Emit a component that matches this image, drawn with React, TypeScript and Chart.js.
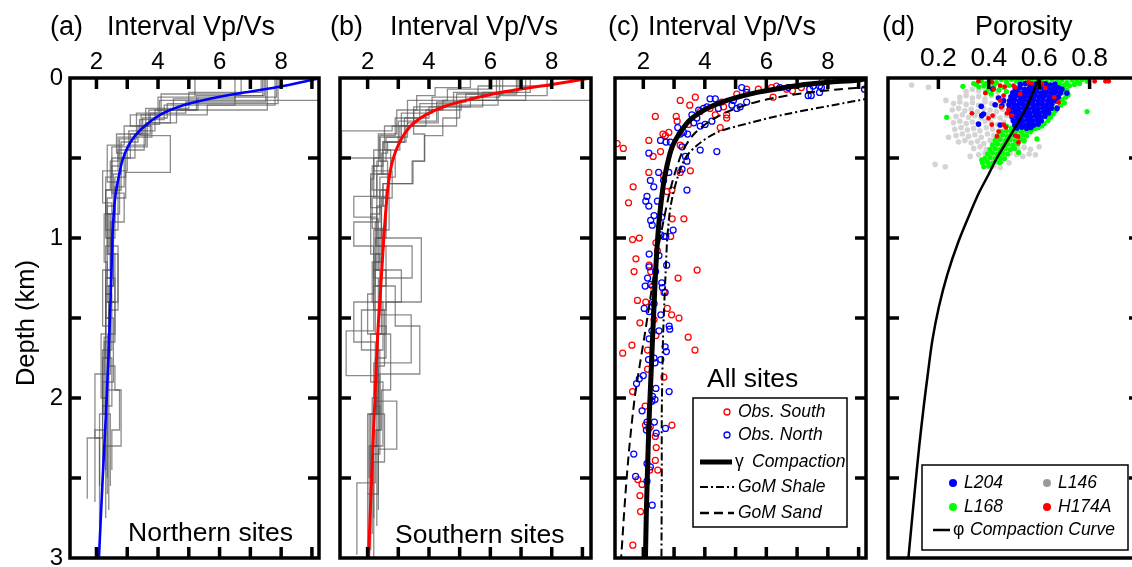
import React, { useEffect, useRef } from "react";
import { Chart, registerables } from "chart.js";
Chart.register(...registerables);

type Pt = [number, number];
const FONT = "'Liberation Sans', Arial, Helvetica, sans-serif";

// ---------- tick values ----------
const vpvsTickValues = [2, 3, 4, 5, 6, 7, 8, 9];
const vpvsTickLabels = [2, 4, 6, 8];
const porosityTickValues = [0.2, 0.4, 0.6, 0.8, 1.0];
const porosityTickLabels = [0.2, 0.4, 0.6, 0.8];
const depthTickValues = [0.5, 1, 1.5, 2, 2.5];
const depthTickLabels = [0, 1, 2, 3];

// ---------- (a) northern sites: interval Vp/Vs step profiles [Vp/Vs, top depth km] ----------
const north1: Pt[] = [[9.25,0],[4.05,0.14],[3.55,0.29],[2.95,0.45],[2.6,0.62],[2.5,0.9],[2.3,1.2],[2.45,1.5],[2.2,1.85],[2.35,2.1],[2.35,2.6]];
const north2: Pt[] = [[7.85,0],[5.3,0.12],[4.4,0.2],[3.6,0.28],[3.0,0.42],[2.75,0.58],[2.4,0.85],[2.6,1.1],[2.3,1.4],[2.5,1.75],[2.2,2.05],[2.2,2.45]];
const north3: Pt[] = [[7.5,0],[4.9,0.15],[3.75,0.22],[3.25,0.35],[2.8,0.5],[2.3,0.7],[2.55,0.95],[2.4,1.3],[2.25,1.62],[1.95,1.85],[2.1,2.25],[2.1,2.55]];
const north4: Pt[] = [[7.4,0],[6.5,0.11],[4.2,0.17],[3.4,0.26],[4.4,0.36],[2.95,0.59],[2.6,0.75],[2.35,1.0],[2.6,1.25],[2.35,1.6],[2.75,1.95],[2.5,2.2],[2.5,2.45]];
const north5: Pt[] = [[7.45,0],[5.25,0.11],[3.9,0.2],[3.05,0.33],[2.7,0.45],[2.2,0.58],[2.5,0.78],[2.3,1.05],[2.5,1.35],[2.3,1.7],[1.95,2.2],[1.95,2.65]];
const north6: Pt[] = [[6.5,0],[4.5,0.13],[3.7,0.2],[3.35,0.3],[2.8,0.4],[2.55,0.6],[2.35,0.8],[2.7,1.1],[2.4,1.45],[2.2,1.9],[1.7,2.25],[1.7,2.63]];
const north7: Pt[] = [[7.9,0],[4.3,0.16],[3.5,0.25],[3.1,0.35],[2.5,0.5],[2.9,0.72],[2.45,0.9],[2.2,1.2],[2.4,1.55],[2.6,1.8],[2.8,1.95],[2.3,2.3],[2.3,2.75]];
const north8: Pt[] = [[5.2,0],[4.0,0.12],[3.3,0.22],[2.75,0.38],[2.5,0.55],[2.35,0.75],[2.55,1.0],[2.3,1.3],[2.15,1.6],[2.35,2.0],[2.35,2.5]];
const north9: Pt[] = [[7.35,0],[5.0,0.09],[3.6,0.19],[2.9,0.3],[2.35,0.42],[2.7,0.65],[2.5,0.95],[2.3,1.25],[2.55,1.5],[2.4,1.9],[2.4,2.7]];
const north10: Pt[] = [[6.7,0],[4.1,0.1],[3.1,0.23],[3.8,0.3],[2.7,0.37],[2.45,0.52],[2.3,0.7],[2.45,1.0],[2.3,1.35],[2.2,1.7],[2.45,2.1],[2.45,2.55]];
const north11: Pt[] = [[7.55,0],[4.6,0.2],[3.65,0.28],[2.5,0.43],[2.3,0.62],[2.45,0.85],[2.7,1.05],[2.4,1.4],[2.2,1.75],[2.3,2.0],[2.3,2.45]];
const north12: Pt[] = [[7.8,0],[5.6,0.17],[3.45,0.23],[2.65,0.35],[2.9,0.47],[2.6,0.68],[2.25,0.85],[2.35,1.15],[2.6,1.4],[2.25,1.65],[2.1,2.1],[2.1,2.8]];
const northProfiles = [north1, north2, north3, north4, north5, north6, north7, north8, north9, north10, north11, north12];
const northCompaction: Pt[] = [[9.3,0],[7.85,0.058],[6.5,0.1],[5.5,0.138],[4.7,0.178],[4.05,0.232],[3.45,0.32],[3.09,0.405],[2.85,0.51],[2.7,0.64],[2.6,0.76],[2.53,0.95],[2.49,1.18],[2.44,1.49],[2.33,2.01],[2.2,2.51],[2.08,3.0]];

// ---------- (b) southern sites ----------
const south1: Pt[] = [[9.3,0],[5.0,0.14],[4.45,0.25],[3.85,0.36],[3.45,0.52],[2.5,0.66],[2.3,0.8],[3.75,1.0],[2.6,1.4],[2.3,1.6],[2.5,1.9],[2.1,2.3],[2.1,2.95]];
const south2: Pt[] = [[7.85,0],[6.25,0.11],[4.3,0.17],[3.3,0.28],[2.6,0.37],[2.3,0.52],[2.15,0.74],[2.5,0.94],[2.2,1.15],[3.1,1.2],[2.2,1.4],[1.3,1.58],[2.4,1.86],[2.0,2.1],[2.0,2.6]];
const south3: Pt[] = [[7.3,0],[5.75,0.09],[3.5,0.18],[2.8,0.3],[1.15,0.33],[2.9,0.5],[2.4,0.62],[2.1,0.85],[2.4,1.1],[2.9,1.3],[3.7,1.55],[2.3,1.85],[2.55,2.1],[2.2,2.4],[2.2,3.0]];
const south4: Pt[] = [[6.3,0],[5.35,0.12],[4.0,0.18],[3.2,0.25],[2.5,0.4],[2.15,0.55],[2.6,0.7],[1.55,0.74],[2.3,0.87],[2.6,1.05],[2.2,1.3],[1.55,1.4],[2.25,1.65],[2.95,2.02],[2.35,2.32],[2.35,2.7]];
const south5: Pt[] = [[6.9,0],[4.8,0.09],[3.7,0.16],[2.9,0.25],[2.4,0.36],[2.65,0.52],[2.4,0.7],[2.25,0.9],[3.45,1.05],[2.4,1.25],[3.42,1.48],[2.2,1.78],[2.3,2.0],[2.15,2.3],[2.15,2.85]];
const south6: Pt[] = [[7.15,0],[5.05,0.14],[3.9,0.2],[3.05,0.3],[2.2,0.45],[2.1,0.63],[2.45,0.81],[2.3,1.0],[2.6,1.2],[2.25,1.45],[2.75,1.6],[2.45,1.95],[2.25,2.2],[1.65,2.53],[1.65,2.98]];
const south7: Pt[] = [[6.2,0],[4.45,0.14],[3.5,0.2],[3.86,0.35],[3.48,0.52],[2.5,0.66],[2.6,0.8],[2.25,1.0],[2.45,1.3],[2.1,1.6],[2.35,1.9],[2.05,2.3],[2.05,2.9]];
const south8: Pt[] = [[6.05,0],[4.6,0.07],[3.3,0.14],[2.55,0.3],[2.75,0.45],[2.3,0.6],[1.55,0.9],[2.2,1.05],[2.0,1.35],[2.35,1.6],[2.15,2.0],[2.35,2.3],[2.0,2.6],[2.0,3.0]];
const south9: Pt[] = [[5.35,0],[4.2,0.06],[3.6,0.11],[2.95,0.2],[2.35,0.35],[2.2,0.55],[2.6,0.75],[2.4,0.95],[2.15,1.15],[2.5,1.4],[2.3,1.7],[2.05,2.1],[2.05,2.5]];
const south10: Pt[] = [[6.4,0],[4.9,0.1],[3.25,0.3],[2.65,0.4],[2.45,0.47],[2.7,0.6],[2.2,0.95],[2.35,1.25],[2.6,1.55],[2.25,1.75],[2.4,2.05],[2.2,2.35],[2.2,2.75]];
const south11: Pt[] = [[8.0,0],[5.6,0.05],[4.1,0.12],[3.1,0.22],[2.4,0.37],[2.2,0.5],[2.8,0.58],[2.45,0.75],[2.25,1.1],[1.8,1.45],[2.4,1.7],[2.3,2.2],[2.3,2.8]];
const south12: Pt[] = [[6.85,0],[5.2,0.1],[4.25,0.15],[3.0,0.27],[2.5,0.4],[2.1,0.6],[2.35,0.88],[2.2,1.2],[2.55,1.45],[2.35,1.8],[2.1,2.1],[2.1,2.6]];
const southProfiles = [south1, south2, south3, south4, south5, south6, south7, south8, south9, south10, south11, south12];
const southCompaction: Pt[] = [[9.3,0],[8.0,0.04],[6.5,0.085],[5.3,0.135],[4.5,0.178],[3.85,0.235],[3.38,0.305],[3.02,0.41],[2.81,0.52],[2.67,0.67],[2.58,0.86],[2.52,1.02],[2.43,1.3],[2.33,1.6],[2.24,2.0],[2.13,2.5],[2.03,3.0]];

// ---------- (c) all sites ----------
const obsSouth: Pt[] = [
  [1.15,0.41],[1.35,0.44],[2.39,0.24],[3.20,0.14],[3.69,0.12],[3.51,0.17],[3.07,0.24],[3.10,0.27],[2.64,0.35],[2.83,0.34],[2.72,0.36],[2.18,0.39],[2.56,0.46],[2.32,0.49],[3.20,0.42],[3.47,0.29],[3.85,0.21],[4.17,0.19],[4.34,0.23],[4.71,0.23],[4.71,0.25],[4.50,0.31],[4.61,0.18],[4.55,0.15],[5.04,0.10],[5.36,0.07],[5.74,0.07],[6.22,0.12],[6.17,0.06],[6.33,0.05],[6.66,0.07],[6.85,0.08],[7.14,0.06],[7.82,0.02],[3.53,0.58],[3.20,0.59],[2.18,0.59],[1.67,0.68],[2.77,0.71],[2.93,0.70],[2.66,0.61],
  [1.52,0.78],[2.94,0.88],[3.32,0.88],[1.65,1.01],[1.87,1.00],[2.41,1.03],[2.89,0.99],[1.76,1.13],[1.70,1.21],[2.19,1.17],[2.24,1.21],[3.75,1.20],[3.13,1.25],[2.30,1.30],[2.67,1.34],[1.81,1.39],[2.08,1.40],[2.78,1.44],[2.92,1.48],[3.16,1.50],[1.89,1.53],[2.35,1.51],[3.46,1.62],[3.68,1.70],[1.63,1.67],[1.33,1.72],[2.14,1.70],[2.41,1.61],[2.14,1.82],[2.67,1.87],[1.65,1.96],[2.06,2.05],[2.46,1.08],
  [2.07,2.17],[2.18,2.19],[2.23,2.18],[2.93,2.17],[2.39,2.24],[2.42,2.31],[2.39,2.39],[2.47,2.45],[2.21,2.45],[1.82,2.51],[1.96,2.54],[1.89,2.61],[1.91,2.71],[1.66,2.92]
];
const obsNorth: Pt[] = [
  [5.20,0.06],[5.36,0.09],[6.44,0.06],[6.71,0.06],[7.41,0.07],[7.52,0.05],[7.73,0.05],[7.79,0.06],[7.46,0.11],[7.36,0.11],[7.73,0.09],[9.19,0.07],[4.17,0.13],[4.34,0.13],[4.07,0.18],[3.80,0.20],[3.96,0.19],[3.58,0.23],[3.74,0.25],[3.64,0.28],[3.85,0.30],[4.01,0.29],[4.23,0.27],[4.44,0.19],[4.93,0.14],[4.88,0.17],[5.04,0.19],[5.15,0.18],[5.36,0.15],[3.12,0.31],[3.20,0.35],[3.31,0.34],[3.44,0.35],[2.74,0.40],[2.88,0.40],[2.56,0.39],[2.18,0.47],[3.85,0.45],[4.39,0.46],[3.26,0.43],[3.42,0.52],[3.37,0.49],[3.26,0.57],[2.50,0.59],[2.83,0.59],[2.23,0.64],[2.34,0.68],[2.12,0.74],[3.42,0.70],[2.66,0.64],
  [2.08,0.77],[2.46,0.77],[2.18,0.80],[2.35,0.86],[2.24,0.89],[2.60,0.87],[2.29,0.92],[2.97,0.95],[2.57,0.98],[2.67,0.99],[2.73,0.99],[2.19,1.10],[2.51,1.11],[2.76,1.17],[2.19,1.18],[2.40,1.21],[2.14,1.25],[2.06,1.30],[2.24,1.29],[2.60,1.28],[2.62,1.31],[2.71,1.34],[2.30,1.40],[2.35,1.41],[2.03,1.44],[2.19,1.46],[2.57,1.48],[2.84,1.55],[2.86,1.57],[2.28,1.58],[2.19,1.63],[2.51,1.58],[2.71,1.68],[2.75,1.71],[2.35,1.75],[2.17,1.76],[2.57,1.76],[2.38,1.78],[2.00,1.86],[1.78,1.91],[1.87,1.88],[2.41,1.94],[2.30,1.99],[2.84,1.96],[2.28,2.02],[2.38,2.01],
  [1.96,2.08],[2.12,2.15],[2.36,2.15],[2.10,2.20],[2.42,2.22],[2.72,2.19],[1.69,2.35],[2.12,2.41],[2.23,2.43],[1.75,2.49],[2.12,2.52],[2.29,2.67]
];
const gammaCompaction: Pt[] = [[9.3,0],[9.03,0.012],[8.0,0.027],[7.09,0.045],[5.7,0.09],[4.72,0.14],[4.08,0.19],[3.53,0.26],[3.2,0.34],[2.94,0.43],[2.78,0.54],[2.65,0.67],[2.51,0.9],[2.45,1.05],[2.40,1.21],[2.35,1.42],[2.30,1.63],[2.25,1.86],[2.2,2.08],[2.16,2.3],[2.1,2.71],[2.07,3.0]];
const gomShale: Pt[] = [[9.4,0.125],[8.16,0.17],[6.67,0.225],[5.47,0.28],[4.4,0.34],[3.75,0.42],[3.37,0.5],[3.1,0.63],[2.89,0.8],[2.78,1.0],[2.73,1.2],[2.68,1.42],[2.64,1.63],[2.62,1.85],[2.6,2.1],[2.6,2.5],[2.59,3.0]];
const gomSand: Pt[] = [[9.4,0.055],[8.4,0.07],[7.2,0.095],[6.0,0.135],[5.0,0.19],[4.2,0.265],[3.65,0.35],[3.3,0.45],[3.05,0.58],[2.85,0.72],[2.65,0.9],[2.45,1.1],[2.25,1.35],[2.05,1.6],[1.88,1.8],[1.72,2.0],[1.55,2.3],[1.42,2.6],[1.28,3.0]];

// ---------- (d) porosity [porosity, depth km] ----------
const wellL146: Pt[] = [
  [0.31,0.085],[0.335,0.07],[0.36,0.08],[0.385,0.065],[0.41,0.075],[0.435,0.088],
  [0.285,0.12],[0.31,0.11],[0.335,0.125],[0.36,0.115],[0.385,0.13],[0.41,0.11],[0.435,0.122],[0.46,0.115],
  [0.26,0.16],[0.285,0.15],[0.31,0.165],[0.335,0.155],[0.36,0.17],[0.385,0.15],[0.41,0.16],[0.435,0.17],[0.46,0.155],
  [0.255,0.2],[0.28,0.19],[0.305,0.205],[0.33,0.195],[0.355,0.21],[0.38,0.19],[0.405,0.2],[0.43,0.21],[0.455,0.195],
  [0.27,0.24],[0.295,0.23],[0.32,0.245],[0.345,0.235],[0.37,0.25],[0.395,0.23],[0.42,0.24],[0.445,0.25],[0.47,0.235],
  [0.26,0.28],[0.285,0.27],[0.31,0.285],[0.335,0.275],[0.36,0.29],[0.385,0.27],[0.41,0.28],[0.435,0.29],[0.46,0.275],
  [0.265,0.32],[0.29,0.31],[0.315,0.325],[0.34,0.315],[0.365,0.33],[0.39,0.31],[0.415,0.32],[0.44,0.33],[0.465,0.315],
  [0.27,0.36],[0.295,0.35],[0.32,0.365],[0.345,0.355],[0.37,0.37],[0.395,0.35],[0.42,0.36],[0.445,0.37],[0.47,0.355],[0.5,0.365],
  [0.28,0.4],[0.305,0.39],[0.33,0.405],[0.355,0.395],[0.38,0.41],[0.405,0.39],[0.43,0.4],[0.455,0.41],[0.48,0.395],[0.51,0.405],[0.54,0.4],
  [0.34,0.44],[0.365,0.43],[0.39,0.445],[0.415,0.435],[0.44,0.45],[0.465,0.43],[0.49,0.44],[0.515,0.45],[0.54,0.435],[0.565,0.445],[0.6,0.43],
  [0.36,0.48],[0.385,0.47],[0.41,0.485],[0.435,0.475],[0.46,0.49],[0.485,0.47],[0.51,0.48],[0.535,0.49],[0.56,0.475],[0.585,0.48],
  [0.38,0.52],[0.405,0.51],[0.43,0.525],[0.455,0.515],[0.48,0.53],
  [0.395,0.555],[0.42,0.55],[0.445,0.56],
  [0.094,0.044],[0.16,0.058],[0.187,0.54],[0.227,0.555],[0.326,0.49],[0.23,0.14],[0.24,0.37]
];
const wellL168: Pt[] = [
  [0.37,0.02],[0.39,0.034],[0.41,0.012],[0.43,0.028],[0.45,0.01],[0.47,0.024],[0.49,0.008],[0.51,0.02],[0.53,0.012],[0.55,0.026],[0.57,0.01],[0.59,0.022],[0.61,0.012],[0.63,0.027],[0.65,0.01],[0.67,0.024],[0.69,0.012],[0.71,0.028],[0.73,0.012],[0.75,0.022],[0.77,0.01],[0.79,0.02],[0.74,0.04],[0.72,0.048],[0.70,0.045],[0.68,0.04],[0.76,0.035],
  [0.36,0.055],[0.38,0.048],[0.40,0.065],[0.42,0.05],[0.44,0.075],[0.46,0.058],[0.48,0.046],[0.47,0.085],[0.39,0.09],[0.41,0.1],[0.35,0.04],
  [0.695,0.06],[0.71,0.075],[0.7,0.09],[0.715,0.105],[0.705,0.12],[0.69,0.135],[0.7,0.155],[0.685,0.17],[0.67,0.185],[0.665,0.205],[0.655,0.225],[0.645,0.245],[0.635,0.265],[0.62,0.285],[0.61,0.3],[0.597,0.31],
  [0.47,0.3],[0.49,0.315],[0.585,0.315],[0.57,0.325],
  [0.45,0.335],[0.47,0.33],[0.49,0.338],[0.51,0.332],[0.53,0.337],[0.55,0.331],[0.565,0.336],
  [0.435,0.362],[0.455,0.357],[0.475,0.364],[0.495,0.358],[0.515,0.363],[0.535,0.357],[0.55,0.362],
  [0.425,0.39],[0.445,0.385],[0.465,0.392],[0.485,0.386],[0.505,0.391],[0.525,0.385],[0.54,0.39],
  [0.415,0.418],[0.435,0.413],[0.455,0.42],[0.475,0.414],[0.495,0.419],[0.515,0.413],
  [0.405,0.446],[0.425,0.441],[0.445,0.448],[0.465,0.442],[0.485,0.447],[0.502,0.441],
  [0.395,0.474],[0.415,0.469],[0.435,0.476],[0.455,0.47],[0.475,0.475],
  [0.385,0.502],[0.405,0.497],[0.425,0.504],[0.445,0.498],[0.462,0.503],
  [0.375,0.53],[0.395,0.525],[0.415,0.532],[0.44,0.527],
  [0.38,0.555],[0.4,0.55],
  [0.79,0.21],[0.233,0.246],[0.297,0.052],[0.34,0.035],[0.591,0.381],[0.518,0.465],[0.372,0.512],[0.446,0.527]
];
const wellL204: Pt[] = [
  [0.525,0.04],[0.545,0.035],[0.565,0.045],[0.585,0.038],[0.605,0.042],[0.625,0.036],[0.645,0.044],[0.662,0.04],
  [0.505,0.068],[0.523,0.062],[0.542,0.07],[0.561,0.064],[0.58,0.068],[0.6,0.061],[0.619,0.069],[0.638,0.063],[0.657,0.067],[0.676,0.062],[0.69,0.07],
  [0.495,0.092],[0.513,0.088],[0.532,0.095],[0.551,0.089],[0.57,0.093],[0.589,0.087],[0.608,0.094],[0.627,0.09],[0.646,0.092],[0.665,0.088],[0.684,0.094],
  [0.488,0.117],[0.506,0.112],[0.525,0.119],[0.544,0.114],[0.563,0.118],[0.582,0.112],[0.601,0.117],[0.62,0.113],[0.639,0.119],[0.658,0.114],[0.676,0.118],
  [0.483,0.142],[0.501,0.137],[0.52,0.144],[0.539,0.139],[0.558,0.143],[0.577,0.137],[0.596,0.142],[0.615,0.138],[0.634,0.144],[0.652,0.139],[0.668,0.143],
  [0.48,0.167],[0.498,0.162],[0.517,0.169],[0.536,0.164],[0.555,0.168],[0.574,0.162],[0.593,0.167],[0.612,0.163],[0.631,0.169],[0.65,0.164],
  [0.482,0.192],[0.5,0.187],[0.519,0.194],[0.538,0.189],[0.557,0.193],[0.576,0.187],[0.595,0.192],[0.614,0.188],[0.633,0.194],[0.648,0.19],
  [0.487,0.217],[0.505,0.212],[0.524,0.219],[0.543,0.214],[0.562,0.218],[0.581,0.212],[0.6,0.217],[0.619,0.213],[0.637,0.218],
  [0.492,0.242],[0.51,0.237],[0.529,0.244],[0.548,0.239],[0.567,0.243],[0.586,0.237],[0.605,0.242],[0.623,0.239],
  [0.497,0.267],[0.515,0.262],[0.534,0.269],[0.553,0.264],[0.572,0.268],[0.591,0.262],[0.608,0.267],
  [0.503,0.292],[0.521,0.287],[0.54,0.294],[0.559,0.289],[0.578,0.293],[0.596,0.288],
  [0.512,0.312],[0.531,0.308],[0.55,0.314],[0.567,0.309],
  [0.416,0.069],[0.439,0.125],[0.459,0.142],[0.37,0.177],[0.425,0.167],[0.452,0.173],[0.379,0.225],[0.372,0.235],[0.359,0.288],[0.445,0.294],[0.671,0.19],[0.71,0.094]
];
const wellH174A: Pt[] = [
  [0.359,0.021],[0.412,0.027],[0.445,0.048],[0.463,0.054],[0.498,0.048],[0.505,0.058],[0.571,0.033],[0.591,0.048],[0.611,0.033],[0.624,0.0625],[0.82,0.021],[0.863,0.021],[0.876,0.021],[0.386,0.094],[0.419,0.069],[0.445,0.142],[0.459,0.11],[0.478,0.2],[0.472,0.221],[0.492,0.235],[0.333,0.221],[0.399,0.252],[0.415,0.235],[0.412,0.292],[0.459,0.292],[0.439,0.335],[0.432,0.365],[0.468,0.308],[0.505,0.36],[0.516,0.367],[0.518,0.402],[0.66,0.121],[0.677,0.152],[0.449,0.183],[0.525,0.1],[0.558,0.027]
];
const porosityCompaction: Pt[] = [[0.6,0],[0.573,0.1],[0.545,0.2],[0.508,0.3],[0.47,0.4],[0.432,0.5],[0.4,0.6],[0.36,0.72],[0.335,0.81],[0.28,1.02],[0.235,1.23],[0.202,1.43],[0.176,1.64],[0.158,1.85],[0.142,2.05],[0.124,2.3],[0.105,2.6],[0.081,3.0]];

// ---------- helpers ----------
const toXY = (arr: Pt[]) => arr.map(([x, y]) => ({ x, y }));
const curve = (data: Pt[], color: string, width: number, dash: number[] = []) => ({
  data: toXY(data), showLine: true, borderColor: color, borderWidth: width, borderDash: dash,
  pointRadius: 0, fill: false, tension: 0.3, borderCapStyle: "butt",
});
const steps = (data: Pt[]) => ({
  data: toXY(data), showLine: true, stepped: "after", borderColor: "rgba(85,85,85,0.68)",
  borderWidth: 1.3, pointRadius: 0, fill: false, tension: 0,
});
const rings = (data: Pt[], color: string) => ({
  data: toXY(data), showLine: false, pointRadius: 3, pointBorderWidth: 1.25,
  pointBorderColor: color, pointBackgroundColor: "rgba(0,0,0,0)",
});
const dots = (data: Pt[], color: string, r: number) => ({
  data: toXY(data), showLine: false, pointRadius: r, pointBorderWidth: 0,
  pointBorderColor: color, pointBackgroundColor: color,
});

function txt(ctx: CanvasRenderingContext2D, s: string, x: number, y: number, font: string, align: CanvasTextAlign = "left", base: CanvasTextBaseline = "alphabetic") {
  ctx.font = font; ctx.fillStyle = "#000"; ctx.textAlign = align; ctx.textBaseline = base;
  ctx.fillText(s, x, y);
}
const F = (size: number, italic = false) => `${italic ? "italic " : ""}${size}px ${FONT}`;

interface PanelSpec {
  left: number; right: number; xMin: number; xMax: number;
  xTickValues: number[]; xTickLabels: number[]; xLabelSize: number; xLabelPad: number;
  bottomTicks: boolean; showDepthLabels: boolean; datasets: any[];
  decorate: (ctx: CanvasRenderingContext2D) => void;
}

const CW = 1200, CH = 600, TOP = 78, BOTTOM = 558, XAXIS_H = 44, YAXIS_W = 46;

function decorPlugin(spec: PanelSpec) {
  return {
    id: "decor",
    afterDatasetsDraw(chart: any) {
      const { ctx, chartArea: a, scales } = chart;
      ctx.save();
      ctx.strokeStyle = "#000"; ctx.lineWidth = 3.5; ctx.lineCap = "butt"; ctx.setLineDash([]);
      ctx.beginPath();
      for (const v of spec.xTickValues) {
        const px = scales.x.getPixelForValue(v);
        ctx.moveTo(px, a.top); ctx.lineTo(px, a.top + 11);
        if (spec.bottomTicks) { ctx.moveTo(px, a.bottom); ctx.lineTo(px, a.bottom - 11); }
      }
      for (const v of depthTickValues) {
        const py = scales.y.getPixelForValue(v);
        ctx.moveTo(a.left, py); ctx.lineTo(a.left + 11, py);
        ctx.moveTo(a.right, py); ctx.lineTo(a.right - 11, py);
      }
      ctx.stroke();
      ctx.strokeRect(a.left, a.top, a.right - a.left, a.bottom - a.top);
      ctx.restore();
    },
    afterDraw(chart: any) {
      const ctx = chart.ctx as CanvasRenderingContext2D;
      ctx.save(); spec.decorate(ctx); ctx.restore();
    },
  };
}

function buildConfig(spec: PanelSpec): any {
  return {
    type: "scatter",
    data: { datasets: spec.datasets },
    options: {
      responsive: false, animation: false, devicePixelRatio: 1, events: [],
      layout: { padding: { left: spec.left - YAXIS_W, right: CW - spec.right, top: TOP - XAXIS_H, bottom: CH - BOTTOM } },
      plugins: { legend: { display: false }, tooltip: { enabled: false }, title: { display: false } },
      scales: {
        x: {
          type: "linear", position: "top", min: spec.xMin, max: spec.xMax,
          grid: { display: false, drawTicks: false }, border: { display: false },
          ticks: { color: "#000", font: { family: FONT, size: spec.xLabelSize, lineHeight: 1 }, padding: spec.xLabelPad, maxRotation: 0, autoSkip: false, callback: (v: number) => String(v) },
          afterBuildTicks: (s: any) => { s.ticks = spec.xTickLabels.map((v) => ({ value: v })); },
          afterFit: (s: any) => { s.height = XAXIS_H; },
        },
        y: {
          type: "linear", position: "left", reverse: true, min: 0, max: 3,
          grid: { display: false, drawTicks: false }, border: { display: false },
          ticks: { display: spec.showDepthLabels, color: "#000", font: { family: FONT, size: 24, lineHeight: 1 }, padding: 7, autoSkip: false, callback: (v: number) => String(v) },
          afterBuildTicks: (s: any) => { s.ticks = depthTickLabels.map((v) => ({ value: v })); },
          afterFit: (s: any) => { s.width = YAXIS_W; },
        },
      },
    },
    plugins: [decorPlugin(spec)],
  };
}

// ---------- panels ----------
const panelA: PanelSpec = {
  left: 70, right: 319, xMin: 1.14, xMax: 9.23,
  xTickValues: vpvsTickValues, xTickLabels: vpvsTickLabels, xLabelSize: 24, xLabelPad: 4,
  bottomTicks: true, showDepthLabels: true,
  datasets: [curve(northCompaction, "#0000ff", 2.6), ...northProfiles.map(steps)],
  decorate: (ctx) => {
    txt(ctx, "(a)", 50, 35, F(27));
    txt(ctx, "Interval Vp/Vs", 107, 35, F(27));
    txt(ctx, "Northern sites", 128, 541, F(26.5));
    ctx.save(); ctx.translate(27, 323); ctx.rotate(-Math.PI / 2);
    txt(ctx, "Depth (km)", 0, 0, F(25.5), "center", "middle");
    ctx.restore();
  },
};

const panelB: PanelSpec = {
  left: 340, right: 591, xMin: 1.10, xMax: 9.28,
  xTickValues: vpvsTickValues, xTickLabels: vpvsTickLabels, xLabelSize: 24, xLabelPad: 4,
  bottomTicks: true, showDepthLabels: false,
  datasets: [curve(southCompaction, "#ff0000", 3), ...southProfiles.map(steps)],
  decorate: (ctx) => {
    txt(ctx, "(b)", 330, 35, F(27));
    txt(ctx, "Interval Vp/Vs", 390, 35, F(27));
    txt(ctx, "Southern sites", 395, 543, F(26.5));
  },
};

const panelC: PanelSpec = {
  left: 615, right: 866, xMin: 1.08, xMax: 9.24,
  xTickValues: vpvsTickValues, xTickLabels: vpvsTickLabels, xLabelSize: 24, xLabelPad: 4,
  bottomTicks: true, showDepthLabels: false,
  datasets: [
    curve(gammaCompaction, "#000", 5),
    curve(gomShale, "#000", 2, [8, 3, 2, 3]),
    curve(gomSand, "#000", 2, [9, 5]),
    rings(obsNorth, "#0000ff"),
    rings(obsSouth, "#ff0000"),
  ],
  decorate: (ctx) => {
    txt(ctx, "(c)", 608, 35, F(27));
    txt(ctx, "Interval Vp/Vs", 648, 35, F(27));
    txt(ctx, "All sites", 707, 387, F(26.5));
    ctx.fillStyle = "#fff"; ctx.fillRect(693, 398, 154, 129);
    ctx.strokeStyle = "#000"; ctx.lineWidth = 1.5; ctx.strokeRect(693, 398, 154, 129);
    const rows = [412, 435, 462, 487, 513];
    ctx.lineWidth = 1.3;
    ctx.strokeStyle = "#ff0000"; ctx.beginPath(); ctx.arc(727, rows[0], 3, 0, Math.PI * 2); ctx.stroke();
    ctx.strokeStyle = "#0000ff"; ctx.beginPath(); ctx.arc(727, rows[1], 3, 0, Math.PI * 2); ctx.stroke();
    txt(ctx, "Obs. South", 738, rows[0], F(17.5, true), "left", "middle");
    txt(ctx, "Obs. North", 738, rows[1], F(17.5, true), "left", "middle");
    ctx.strokeStyle = "#000";
    ctx.lineWidth = 5; ctx.beginPath(); ctx.moveTo(700, rows[2]); ctx.lineTo(732, rows[2]); ctx.stroke();
    txt(ctx, "γ", 735, rows[2], F(17.5), "left", "middle");
    txt(ctx, "Compaction", 752, rows[2], F(17.5, true), "left", "middle");
    ctx.lineWidth = 2; ctx.setLineDash([8, 3, 2, 3]);
    ctx.beginPath(); ctx.moveTo(700, rows[3]); ctx.lineTo(734, rows[3]); ctx.stroke();
    ctx.lineWidth = 2.5; ctx.setLineDash([9, 5]);
    ctx.beginPath(); ctx.moveTo(700, rows[4]); ctx.lineTo(734, rows[4]); ctx.stroke();
    ctx.setLineDash([]);
    txt(ctx, "GoM Shale", 738, rows[3], F(17.5, true), "left", "middle");
    txt(ctx, "GoM Sand", 738, rows[4], F(17.5, true), "left", "middle");
  },
};

const panelD: PanelSpec = {
  left: 888, right: 1140, xMin: 0, xMax: 1,
  xTickValues: porosityTickValues, xTickLabels: porosityTickLabels, xLabelSize: 26.5, xLabelPad: 6,
  bottomTicks: false, showDepthLabels: false,
  datasets: [
    curve(porosityCompaction, "#000", 2.5),
    dots(wellH174A, "#ff0000", 2.4),
    dots(wellL204, "#0000ff", 2.8),
    dots(wellL168, "#00ff00", 2.6),
    dots(wellL146, "#d4d4d4", 2.8),
  ],
  decorate: (ctx) => {
    txt(ctx, "(d)", 882, 35, F(27));
    txt(ctx, "Porosity", 975, 35, F(27));
    ctx.fillStyle = "#fff"; ctx.fillRect(922, 465, 206, 85);
    ctx.strokeStyle = "#000"; ctx.lineWidth = 1.5; ctx.strokeRect(922, 465, 206, 85);
    const dot = (x: number, y: number, c: string) => { ctx.fillStyle = c; ctx.beginPath(); ctx.arc(x, y, 4, 0, Math.PI * 2); ctx.fill(); };
    dot(953, 483, "#0000ff"); dot(1047, 483, "#9a9a9a"); dot(953, 507, "#00ff00"); dot(1047, 507, "#ff0000");
    txt(ctx, "L204", 964, 483, F(17.5, true), "left", "middle");
    txt(ctx, "L146", 1058, 483, F(17.5, true), "left", "middle");
    txt(ctx, "L168", 964, 507, F(17.5, true), "left", "middle");
    txt(ctx, "H174A", 1058, 507, F(17.5, true), "left", "middle");
    ctx.strokeStyle = "#000"; ctx.lineWidth = 2.5;
    ctx.beginPath(); ctx.moveTo(933, 530); ctx.lineTo(950, 530); ctx.stroke();
    txt(ctx, "φ", 953, 530, F(17.5), "left", "middle");
    txt(ctx, "Compaction Curve", 970, 530, F(17.5, true), "left", "middle");
  },
};

function Panel({ spec }: { spec: PanelSpec }) {
  const ref = useRef<HTMLCanvasElement>(null);
  useEffect(() => {
    if (!ref.current) return;
    const chart = new Chart(ref.current, buildConfig(spec));
    return () => chart.destroy();
  }, [spec]);
  return (
    <canvas ref={ref} width={CW} height={CH}
      style={{ position: "absolute", left: 0, top: 0, width: CW, height: CH }} />
  );
}

export default function App() {
  return (
    <div style={{ position: "fixed", left: 0, top: 0, width: 1132, height: 567, overflow: "hidden", background: "#fff" }}>
      <Panel spec={panelA} />
      <Panel spec={panelB} />
      <Panel spec={panelC} />
      <Panel spec={panelD} />
    </div>
  );
}
